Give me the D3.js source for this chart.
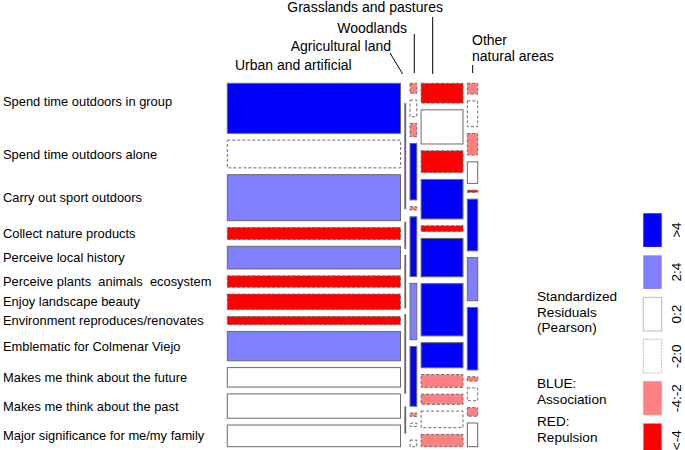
<!DOCTYPE html>
<html>
<head>
<meta charset="utf-8">
<script src="https://cdnjs.cloudflare.com/ajax/libs/d3/7.8.5/d3.min.js"></script>
<style>
  body { margin: 0; background: #fff; }
  text { font-family: "Liberation Sans", Arial, sans-serif; fill: #000; }
</style>
</head>
<body>
<svg id="chart" width="685" height="450"></svg>
<script>
// row categories (perceived services)
var services = [
  "Spend time outdoors in group",
  "Spend time outdoors alone",
  "Carry out sport outdoors",
  "Collect nature products",
  "Perceive local history",
  "Perceive plants  animals  ecosystem",
  "Enjoy landscape beauty",
  "Environment reproduces/renovates",
  "Emblematic for Colmenar Viejo",
  "Makes me think about the future",
  "Makes me think about the past",
  "Major significance for me/my family"
]

// column categories (land cover)
var landTypes = ["Urban and artificial", "Agricultural land", "Woodlands", "Grasslands and pastures", "Other natural areas"]

// counts per land type, one value per service
var urban = [388, 215, 357, 93, 176, 89, 121, 64, 227, 151, 189, 168]
var agricultural = [0, 0, 0, 4, 0, 1, 2, 3, 0, 1, 0, 0]
var woodlands = [3, 5, 4, 17, 1, 18, 17, 18, 1, 1, 0, 2]
var grasslands = [37, 64, 41, 74, 11, 72, 98, 47, 24, 19, 31, 23]
var otherNatural = [5, 12, 10, 10, 1, 24, 20, 29, 2, 6, 4, 11]

// standardized (Pearson) residuals, estimated from the shading band of each cell
var resUrban = [5, -1, 3, -5, 3, -5, -5, -5, 3, 1, 1, 1]
var resAgricultural = [-1, -1, -1, 5, -1, 1, 1, 3, -1, 1, -1, -1]
var resWoodlands = [-3, -1, -3, 5, -3, 5, 3, 5, -3, -1, -1, -1]
var resGrasslands = [-5, 1, -5, 5, -5, 5, 5, 5, -3, -3, -1, -3]
var resOther = [-3, -1, -3, 1, -5, 5, 3, 5, -3, -1, -3, 1]

// legend bands
var bandLabels = [">4", "2:4", "0:2", "-2:0", "-4:-2", "<-4"]
var bandColors = ["#0000ff", "#8080ff", "#ffffff", "#ffffff", "#ff8080", "#ff0000"]

var counts = [urban, agricultural, woodlands, grasslands, otherNatural]
var residuals = [resUrban, resAgricultural, resWoodlands, resGrasslands, resOther]

var svg = d3.select("#chart")

var plot = { left: 227.3, right: 477.7, top: 83.3, bottom: 446.7 }
var gapX = 4.35, gapY = 6.8

var colTotals = counts.map(function(c) { return d3.sum(c) })
var grandTotal = d3.sum(colTotals)

var dataW = (plot.right - plot.left) - gapX * (landTypes.length - 1)
var dataH = (plot.bottom - plot.top) - gapY * (services.length - 1)

var widthScale = d3.scaleLinear().domain([0, grandTotal]).range([0, dataW])

var shade = d3.scaleThreshold()
  .domain([-4, -2, 0, 2, 4])
  .range(["#ff0000", "#ff8080", "#ffffff", "#ffffff", "#8080ff", "#0000ff"])

// build cells: split columns by land type, then each column by service
var cells = []
var x = plot.left
counts.forEach(function(col, ci) {
  var w = widthScale(colTotals[ci])
  var heightScale = d3.scaleLinear().domain([0, colTotals[ci]]).range([0, dataH])
  var y = plot.top
  col.forEach(function(v, ri) {
    var h = heightScale(v)
    cells.push({ col: ci, row: ri, x: x, y: y, w: w, h: h, res: residuals[ci][ri] })
    y += h + gapY
  })
  x += w + gapX
})

svg.append("g")
  .selectAll("rect")
  .data(cells)
  .enter()
  .append("rect")
  .attr("x", function(d) { return d.x })
  .attr("y", function(d) { return d.y })
  .attr("width", function(d) { return d.w })
  .attr("height", function(d) { return d.h })
  .attr("fill", function(d) { return shade(d.res) })
  .attr("stroke", "#6a6a6a")
  .attr("stroke-width", 1)
  .attr("stroke-dasharray", function(d) { return d.res < 0 ? "3,2" : null })

// row labels, at the centre of each row of the first column
var urbanCells = cells.filter(function(d) { return d.col === 0 })
svg.append("g")
  .selectAll("text")
  .data(urbanCells)
  .enter()
  .append("text")
  .attr("x", 3)
  .attr("y", function(d, i) { return d.y + d.h / 2 + (i === 0 ? -7 : 0) })
  .attr("dy", "0.35em")
  .style("font-size", "12.9px")
  .style("white-space", "pre")
  .text(function(d, i) { return services[i] })

// column labels with leader lines
var topLabels = [
  { lines: [landTypes[0]], x: 235, y: 69.5 },
  { lines: [landTypes[1]], x: 290.7, y: 51 },
  { lines: [landTypes[2]], x: 337.3, y: 33 },
  { lines: [landTypes[3]], x: 287.3, y: 11.5 },
  { lines: ["Other", "natural areas"], x: 472, y: 45 }
]
topLabels.forEach(function(t) {
  var txt = svg.append("text")
    .attr("x", t.x)
    .attr("y", t.y)
    .style("font-size", "14px")
  t.lines.forEach(function(l, i) {
    txt.append("tspan").attr("x", t.x).attr("dy", i === 0 ? 0 : 16).text(l)
  })
})

var leaders = [
  [390, 53, 402.7, 74],
  [414.3, 34, 414.3, 73],
  [432.7, 17, 432.7, 74],
  [472.7, 65, 472.7, 73]
]
svg.append("g")
  .selectAll("line")
  .data(leaders)
  .enter()
  .append("line")
  .attr("x1", function(d) { return d[0] })
  .attr("y1", function(d) { return d[1] })
  .attr("x2", function(d) { return d[2] })
  .attr("y2", function(d) { return d[3] })
  .attr("stroke", "#000")
  .attr("stroke-width", 1)

// legend
var legendY = d3.scaleBand().domain(bandLabels).range([213.3, 457]).paddingInner(0.2)
var legend = svg.append("g")
legend.selectAll("rect")
  .data(bandLabels)
  .enter()
  .append("rect")
  .attr("x", 643.3)
  .attr("y", function(d) { return legendY(d) })
  .attr("width", 18.4)
  .attr("height", legendY.bandwidth())
  .attr("fill", function(d, i) { return bandColors[i] })
  .attr("stroke", function(d, i) { return i < 2 ? "none" : "#bbb" })
  .attr("stroke-dasharray", function(d, i) { return i >= 3 ? "2,1" : null })

legend.selectAll("text")
  .data(bandLabels)
  .enter()
  .append("text")
  .attr("transform", function(d) {
    return "translate(680.5," + (legendY(d) + legendY.bandwidth() / 2) + ") rotate(-90)"
  })
  .attr("text-anchor", "middle")
  .style("font-size", "13.6px")
  .text(function(d) { return d })

var notes = [
  ["Standardized", 301], ["Residuals", 316.5], ["(Pearson)", 332],
  ["BLUE:", 388], ["Association", 404],
  ["RED:", 426], ["Repulsion", 442]
]
legend.selectAll("text.note")
  .data(notes)
  .enter()
  .append("text")
  .attr("class", "note")
  .attr("x", 537)
  .attr("y", function(d) { return d[1] })
  .style("font-size", "13.6px")
  .text(function(d) { return d[0] })
</script>
</body>
</html>
